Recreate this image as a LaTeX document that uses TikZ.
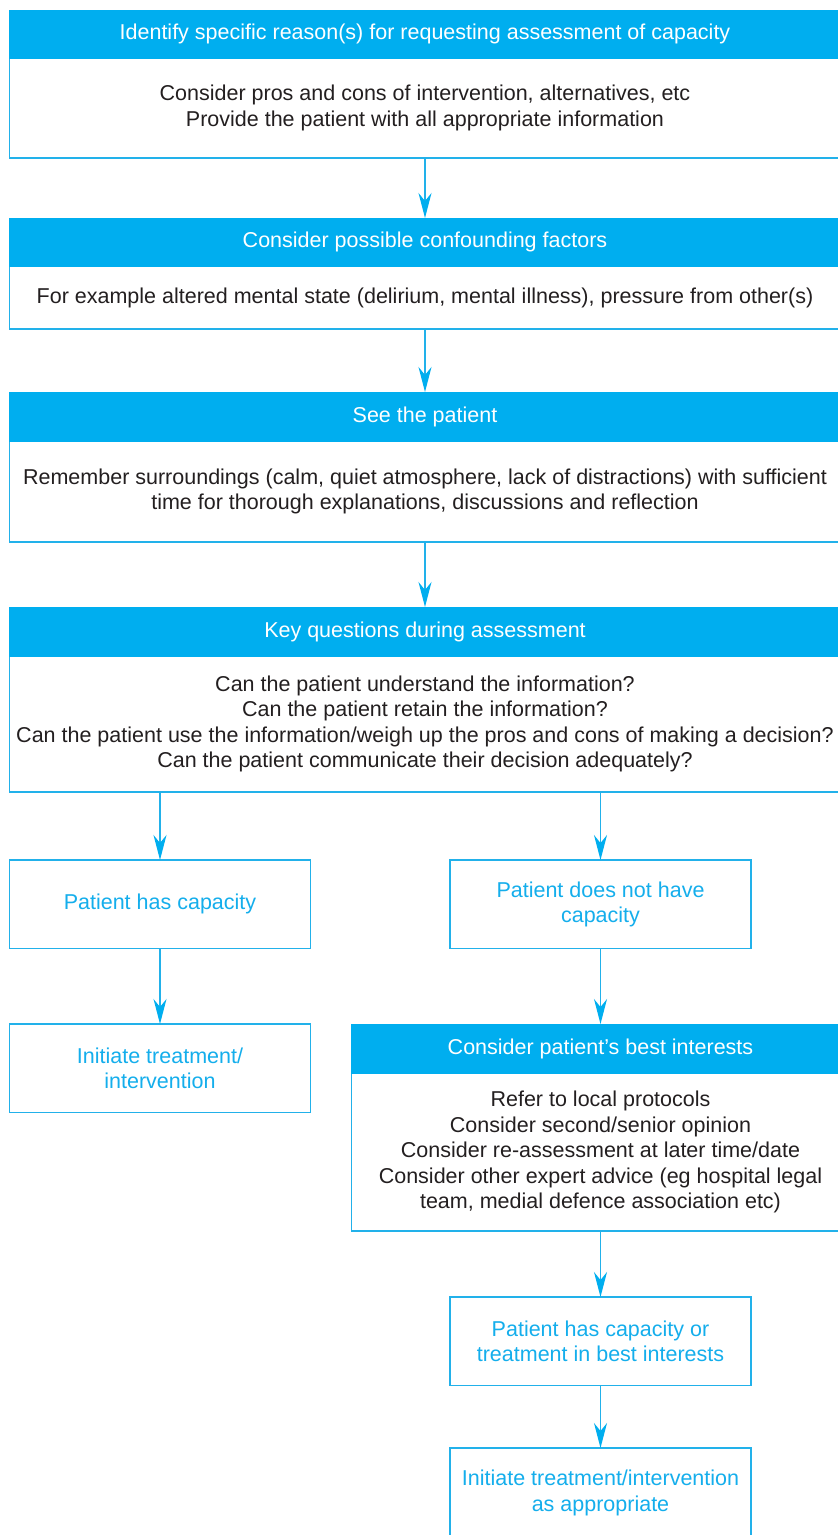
\documentclass[tikz,border=0pt]{standalone}
\usepackage{fontspec}
\setmainfont{Liberation Sans}
\usetikzlibrary{arrows.meta}
\definecolor{hdr}{HTML}{00AEEF}
\definecolor{ln}{HTML}{22B1EA}
\definecolor{txt}{HTML}{231F20}
\definecolor{lt}{HTML}{14AEEC}
\begin{document}
\begin{tikzpicture}[x=1pt,y=-1pt,
  every node/.style={inner sep=0pt, outer sep=0pt, align=center,
    font=\fontsize{21.5}{25.5}\selectfont},
  hdrbox/.style={anchor=north west, fill=hdr, draw=hdr, line width=0.6pt, text=white},
  bodybox/.style={anchor=north west, draw=ln, line width=1.1pt, text=txt, fill=white},
  smallbox/.style={anchor=north west, draw=ln, line width=1.1pt, text=lt,
    minimum width=301pt, minimum height=88.5pt},
  arr/.style={draw=ln, line width=1.4pt,
    -{Stealth[length=25pt,width=13pt,inset=8pt,color=hdr]}}]
\clip (0,0) rectangle (838,1535);
\fill[white] (0,0) rectangle (838,1535);

% Box 1
\node[bodybox, minimum width=831pt, minimum height=100pt] (b1) at (9.5,58)
  {Consider pros and cons of intervention, alternatives, etc\\
   Provide the patient with all appropriate information};
\node[hdrbox, minimum width=831pt, minimum height=48pt] (h1) at (9.5,10)
  {Identify specific reason(s) for requesting assessment of capacity};

% Box 2
\node[bodybox, minimum width=831pt, minimum height=63pt] (b2) at (9.5,266)
  {For example altered mental state (delirium, mental illness), pressure from other(s)};
\node[hdrbox, minimum width=831pt, minimum height=48pt] (h2) at (9.5,218)
  {Consider possible confounding factors};

% Box 3
\node[bodybox, minimum width=831pt, minimum height=101pt] (b3) at (9.5,441)
  {Remember surroundings (calm, quiet atmosphere, lack of distractions) with sufficient\\
   time for thorough explanations, discussions and reflection};
\node[hdrbox, minimum width=831pt, minimum height=49pt] (h3) at (9.5,392)
  {See the patient};

% Box 4
\node[bodybox, minimum width=831pt, minimum height=136pt] (b4) at (9.5,656)
  {Can the patient understand the information?\\
   Can the patient retain the information?\\
   Can the patient use the information/weigh up the pros and cons of making a decision?\\
   Can the patient communicate their decision adequately?};
\node[hdrbox, minimum width=831pt, minimum height=49pt] (h4) at (9.5,607)
  {Key questions during assessment};

% Small boxes
\node[smallbox] (cap) at (9.5,860) {Patient has capacity};
\node[smallbox] (nocap) at (450,860) {Patient does not have\\capacity};
\node[smallbox] (init) at (9.5,1024) {Initiate treatment/\\intervention};

% Best interests
\node[bodybox, minimum width=498pt, minimum height=158pt] (b5) at (351.5,1073)
  {Refer to local protocols\\
   Consider second/senior opinion\\
   Consider re-assessment at later time/date\\
   Consider other expert advice (eg hospital legal\\
   team, medial defence association etc)};
\node[hdrbox, minimum width=498pt, minimum height=49pt] (h5) at (351.5,1024)
  {Consider patient’s best interests};

\node[smallbox] (bestcap) at (450,1297) {Patient has capacity or\\treatment in best interests};
\node[smallbox, minimum height=90pt] (final) at (450,1448) {Initiate treatment/intervention\\as appropriate};

% Connectors
\draw[arr] (b1.south) -- (h2.north);
\draw[arr] (b2.south) -- (h3.north);
\draw[arr] (b3.south) -- (h4.north);
\draw[arr] (cap.north |- b4.south) -- (cap.north);
\draw[arr] (nocap.north |- b4.south) -- (nocap.north);
\draw[arr] (cap.south) -- (init.north);
\draw[arr] (nocap.south) -- (h5.north -| nocap.south);
\draw[arr] (bestcap.north |- b5.south) -- (bestcap.north);
\draw[arr] (bestcap.south) -- (final.north);
\end{tikzpicture}
\end{document}
